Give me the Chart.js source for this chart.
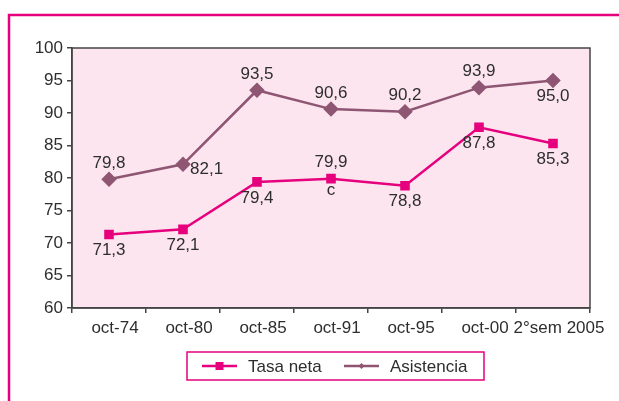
<!DOCTYPE html>
<html lang="es">
<head>
<meta charset="UTF-8">
<title>Tasa neta y asistencia</title>
<script src="https://cdn.jsdelivr.net/npm/chart.js"></script>
<style>
  body { margin: 0; background: #fff; }
  #wrap { width: 619px; height: 401px; }
</style>
</head>
<body>
<div id="wrap"><canvas id="myChart" width="619" height="401"></canvas></div>
<script>
// data
const categories = ['oct-74', 'oct-80', 'oct-85', 'oct-91', 'oct-95', 'oct-00', '2°sem 2005'];
const tasaNeta = [71.3, 72.1, 79.4, 79.9, 78.8, 87.8, 85.3];
const asistencia = [79.8, 82.1, 93.5, 90.6, 90.2, 93.9, 95.0];
// where each value label sits relative to its point
const tasaLabelPos = ['below', 'below', 'below', 'above', 'below', 'below', 'below'];
const asisLabelPos = ['above', 'right', 'above', 'above', 'above', 'above', 'below'];
// extra note letters printed under a point of "Tasa neta"
const tasaNotes = ['', '', '', 'c', '', '', ''];
const yTicks = { min: 60, max: 100, step: 5 };

const PINK = '#e6007e';
const MAUVE = '#8f5674';
const TEXT = '#2e2e2e';
const FONT = '"Liberation Sans", Arial, sans-serif';
const FSIZE = 17;

function fmt(v) {
    return v.toFixed(1).replace('.', ',');
}

// pink plot background, outer frame and plot border
const framePlugin = {
    id: 'framePlugin',
    beforeDraw: (chart) => {
        const ctx = chart.ctx;
        const a = chart.chartArea;
        ctx.save();
        ctx.fillStyle = '#fff';
        ctx.fillRect(0, 0, chart.width, chart.height);
        ctx.fillStyle = '#fce5ee';
        ctx.fillRect(a.left, a.top, a.right - a.left, a.bottom - a.top);
        ctx.strokeStyle = PINK;
        ctx.lineWidth = 2.5;
        ctx.beginPath();
        ctx.moveTo(chart.width, 15);
        ctx.lineTo(9, 15);
        ctx.lineTo(9, chart.height);
        ctx.stroke();
        ctx.restore();
    },
    afterDraw: (chart) => {
        const ctx = chart.ctx;
        const a = chart.chartArea;
        ctx.save();
        ctx.strokeStyle = '#444';
        ctx.lineWidth = 1.5;
        ctx.strokeRect(a.left, a.top, a.right - a.left, a.bottom - a.top);
        ctx.restore();
    }
};

// value labels next to each point
const labelPlugin = {
    id: 'labelPlugin',
    afterDatasetsDraw: (chart) => {
        const ctx = chart.ctx;
        ctx.save();
        ctx.font = FSIZE + 'px ' + FONT;
        ctx.fillStyle = TEXT;
        chart.data.datasets.forEach((ds, di) => {
            const meta = chart.getDatasetMeta(di);
            ds.data.forEach((v, i) => {
                const p = meta.data[i];
                const pos = ds.labelPos[i];
                let x = p.x, y = p.y;
                ctx.textAlign = 'center';
                ctx.textBaseline = 'middle';
                if (pos === 'above') y -= 16;
                else if (pos === 'below') y += 16;
                else if (pos === 'right') { x += 7; y += 5; ctx.textAlign = 'left'; }
                ctx.fillText(fmt(v), x, y);
                if (ds.notes && ds.notes[i]) {
                    ctx.textAlign = 'center';
                    ctx.fillText(ds.notes[i], p.x, p.y + 12);
                }
            });
        });
        ctx.restore();
    }
};

// boxed legend with line + marker, as in the source
const legendPlugin = {
    id: 'legendPlugin',
    afterDraw: (chart) => {
        const ctx = chart.ctx;
        const box = { x: 187, y: 352, w: 297, h: 28 };
        const cy = box.y + box.h / 2;
        ctx.save();
        ctx.fillStyle = '#fff';
        ctx.fillRect(box.x, box.y, box.w, box.h);
        ctx.strokeStyle = PINK;
        ctx.lineWidth = 1.5;
        ctx.strokeRect(box.x, box.y, box.w, box.h);
        ctx.font = FSIZE + 'px ' + FONT;
        ctx.textBaseline = 'middle';
        ctx.textAlign = 'left';
        const starts = [202, 344];
        chart.data.datasets.forEach((ds, i) => {
            const x0 = starts[i];
            ctx.strokeStyle = ds.borderColor;
            ctx.lineWidth = 2.5;
            ctx.beginPath();
            ctx.moveTo(x0, cy);
            ctx.lineTo(x0 + 35, cy);
            ctx.stroke();
            ctx.fillStyle = ds.borderColor;
            const mx = x0 + 17.5;
            if (ds.pointStyle === 'rect') {
                ctx.fillRect(mx - 4, cy - 4, 8, 8);
            } else {
                ctx.beginPath();
                ctx.moveTo(mx, cy - 3);
                ctx.lineTo(mx + 3, cy);
                ctx.lineTo(mx, cy + 3);
                ctx.lineTo(mx - 3, cy);
                ctx.closePath();
                ctx.fill();
            }
            ctx.fillStyle = TEXT;
            ctx.fillText(ds.label, x0 + 46, cy + 1);
        });
        ctx.restore();
    }
};

const ctx = document.getElementById('myChart').getContext('2d');
new Chart(ctx, {
    type: 'line',
    data: {
        labels: categories,
        datasets: [{
            label: 'Tasa neta',
            data: tasaNeta,
            labelPos: tasaLabelPos,
            notes: tasaNotes,
            borderColor: PINK,
            backgroundColor: PINK,
            borderWidth: 2.5,
            pointStyle: 'rect',
            pointRadius: 5,
            pointHoverRadius: 5,
            tension: 0
        }, {
            label: 'Asistencia',
            data: asistencia,
            labelPos: asisLabelPos,
            borderColor: MAUVE,
            backgroundColor: MAUVE,
            borderWidth: 2.5,
            pointStyle: 'rectRot',
            pointRadius: 6,
            pointHoverRadius: 6,
            tension: 0
        }]
    },
    options: {
        responsive: false,
        animation: false,
        layout: { padding: { top: 48, right: 29, left: 0, bottom: 0 } },
        plugins: {
            legend: { display: false },
            tooltip: { enabled: false }
        },
        scales: {
            x: {
                offset: true,
                afterFit: (s) => { s.height = 93; },
                grid: {
                    offset: true,
                    drawOnChartArea: false,
                    color: '#444',
                    tickLength: 5,
                    lineWidth: 1.5
                },
                border: { color: '#444', width: 1.5 },
                ticks: {
                    color: TEXT,
                    font: { family: FONT, size: FSIZE },
                    padding: 5,
                    labelOffset: 6,
                    maxRotation: 0,
                    autoSkip: false
                }
            },
            y: {
                min: yTicks.min,
                max: yTicks.max,
                afterFit: (s) => { s.width = 72; },
                grid: {
                    drawOnChartArea: false,
                    color: '#444',
                    tickLength: 5,
                    lineWidth: 1.5
                },
                border: { color: '#444', width: 1.5 },
                ticks: {
                    stepSize: yTicks.step,
                    color: TEXT,
                    font: { family: FONT, size: FSIZE },
                    padding: 4
                }
            }
        }
    },
    plugins: [framePlugin, labelPlugin, legendPlugin]
});
</script>
</body>
</html>
